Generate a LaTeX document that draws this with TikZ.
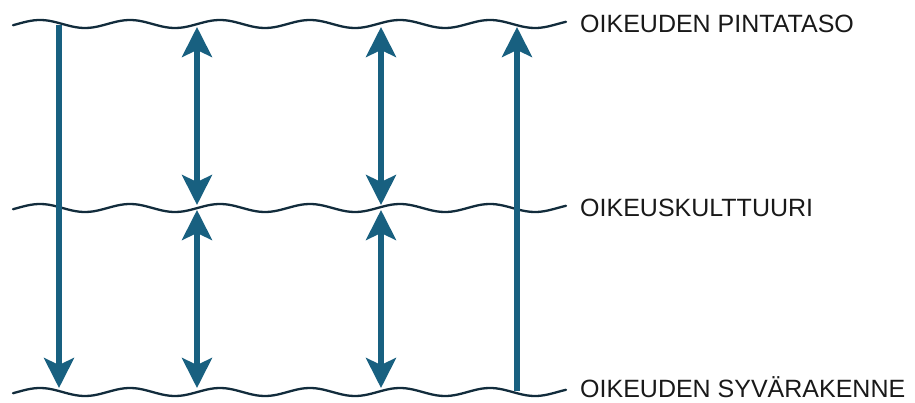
\documentclass[tikz,border=0pt]{standalone}
\usepackage{fontspec}
\setmainfont{Liberation Sans}
\usetikzlibrary{arrows.meta}
\definecolor{arrowblue}{RGB}{24,96,128}
\definecolor{wavedark}{RGB}{18,44,60}
\tikzset{
  wave/.style={draw=wavedark, line width=2.3pt, line cap=round},
  vec/.style={draw=arrowblue, line width=5.2pt},
  tipstyle/.style={-{Stealth[length=30pt, width=30pt, inset=7pt]}},
  both/.style={{Stealth[length=30pt, width=30pt, inset=7pt]}-{Stealth[length=30pt, width=30pt, inset=7pt]}},
  lbl/.style={anchor=base west, inner sep=0pt, font=\fontsize{25}{30}\selectfont, text=black!90}
}
\begin{document}
\begin{tikzpicture}[x=1pt, y=-1pt]
\useasboundingbox (0,0) rectangle (915,403);
% wavy lines
\foreach \yc/\nm in {24/top, 208/mid, 392/bot}{
  \draw[wave] plot[domain=13:566, samples=160, smooth] (\x, {\yc - 4*cos((\x-40)*4)});
}
% connector anchor points
\coordinate (t1) at (59,25);
\coordinate (b1) at (59,388);
\coordinate (t2) at (197,27);
\coordinate (m2a) at (197,205);
\coordinate (m2b) at (197,210);
\coordinate (b2) at (197,388);
\coordinate (t3) at (381,27);
\coordinate (m3a) at (381,205);
\coordinate (m3b) at (381,210);
\coordinate (b3) at (381,388);
\coordinate (t4) at (517,27);
\coordinate (b4) at (517,391);
% arrows
\draw[vec, tipstyle, arrowblue] (t1) -- (b1);
\draw[vec, both, arrowblue] (t2) -- (m2a);
\draw[vec, both, arrowblue] (m2b) -- (b2);
\draw[vec, both, arrowblue] (t3) -- (m3a);
\draw[vec, both, arrowblue] (m3b) -- (b3);
\draw[vec, tipstyle, arrowblue] (b4) -- (t4);
% labels
\node[lbl] (l1) at (580,33) {OIKEUDEN PINTATASO};
\node[lbl] (l2) at (580,217) {OIKEUSKULTTUURI};
\node[lbl] (l3) at (580,397) {OIKEUDEN SYVÄRAKENNE};
\end{tikzpicture}
\end{document}
